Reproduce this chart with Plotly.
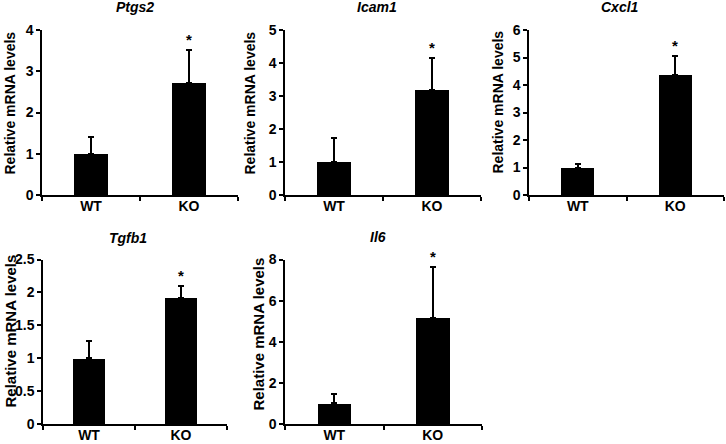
import plotly.graph_objects as go

genes = ["Ptgs2", "Icam1", "Cxcl1", "Tgfb1", "Il6"]
groups = ["WT", "KO"]
ptgs2_mean = [1.0, 2.72]
ptgs2_err = [0.40, 0.79]
icam1_mean = [1.0, 3.18]
icam1_err = [0.73, 0.96]
cxcl1_mean = [1.0, 4.35]
cxcl1_err = [0.11, 0.70]
tgfb1_mean = [1.0, 1.92]
tgfb1_err = [0.26, 0.18]
il6_mean = [1.0, 5.17]
il6_err = [0.46, 2.48]
y_max = [4, 5, 6, 2.5, 8]
y_dtick = [1, 1, 1, 0.5, 2]
significant = ["*", "*", "*", "*", "*"]

means = [ptgs2_mean, icam1_mean, cxcl1_mean, tgfb1_mean, il6_mean]
errs = [ptgs2_err, icam1_err, cxcl1_err, tgfb1_err, il6_err]

W, H = 726, 444
# panel pixel boxes: (left, right, top, bottom)
boxes = [(42, 238, 30, 195), (285, 481, 30, 195), (529, 724, 30, 195),
         (43, 227, 259.5, 424), (285, 482, 259.5, 424)]
title_pos = [(135, 7), (377, 7), (620, 7), (128, 238), (378, 237)]
ytitle_pos = [(9.5, 103), (249.5, 103), (497.5, 102), (9.5, 331), (257.5, 334)]
ytitle_size = [14, 14, 14, 15, 15]

FONT = "Liberation Sans, Arial, sans-serif"
fig = go.Figure()
annotations = []
for i in range(5):
    n = "" if i == 0 else str(i + 1)
    l, r, t, b = boxes[i]
    fig.add_trace(go.Bar(
        x=[0, 1], y=means[i], width=0.34,
        marker=dict(color="black", line=dict(width=0)),
        error_y=dict(type="data", symmetric=False, array=errs[i], arrayminus=[0, 0],
                     color="black", thickness=2, width=3),
        xaxis="x" + n, yaxis="y" + n, showlegend=False, hoverinfo="skip",
    ))
    fig.update_layout(**{
        "xaxis" + n: dict(domain=[l / W, r / W], anchor="y" + n, range=[-0.5, 1.5],
                          tickvals=[0, 1], ticktext=groups, ticks="",
                          showline=True, linecolor="black", linewidth=1.5,
                          showgrid=False, zeroline=False, automargin=False,
                          ticklabelstandoff=-3,
                          minor=dict(tickvals=[-0.5, 0.5, 1.5], ticks="outside", ticklen=4,
                                     tickcolor="black", tickwidth=1.5, showgrid=False),
                          tickfont=dict(family=FONT, size=14, color="black", weight="bold")),
        "yaxis" + n: dict(domain=[1 - b / H, 1 - t / H], anchor="x" + n, range=[0, y_max[i]],
                          dtick=y_dtick[i], tick0=0, ticks="outside", ticklen=4,
                          tickcolor="black", tickwidth=1.5, automargin=False,
                          showline=True, linecolor="black", linewidth=1.5,
                          showgrid=False, zeroline=False,
                          tickfont=dict(family=FONT, size=14, color="black", weight="bold")),
    })
    tx, ty = title_pos[i]
    annotations.append(dict(text=genes[i], x=tx / W, y=1 - ty / H, xref="paper", yref="paper",
                            showarrow=False, xanchor="center", yanchor="middle",
                            font=dict(family=FONT, size=14, color="black", weight="bold", style="italic")))
    yx, yy = ytitle_pos[i]
    annotations.append(dict(text="Relative mRNA levels", x=yx / W, y=1 - yy / H, xref="paper", yref="paper",
                            showarrow=False, xanchor="center", yanchor="middle", textangle=-90,
                            font=dict(family=FONT, size=ytitle_size[i], color="black", weight="bold")))
    annotations.append(dict(text=significant[i], x=1, y=means[i][1] + errs[i][1],
                            xref="x" + n, yref="y" + n, showarrow=False,
                            xanchor="center", yanchor="bottom", yshift=0,
                            font=dict(family=FONT, size=15, color="black", weight="bold")))

fig.update_layout(width=W, height=H, margin=dict(l=0, r=0, t=0, b=0, pad=0, autoexpand=False),
                  paper_bgcolor="white", plot_bgcolor="white", bargap=0,
                  annotations=annotations)
fig.write_html("out.html", config={"displayModeBar": False, "responsive": False},
               post_script="document.body.style.margin='0px';")
